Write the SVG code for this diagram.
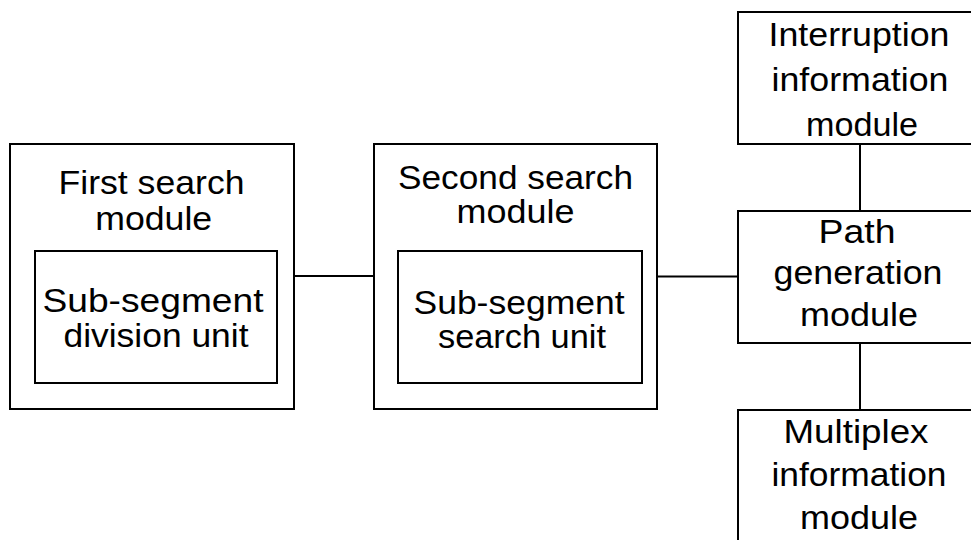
<svg xmlns="http://www.w3.org/2000/svg" width="971" height="540" viewBox="0 0 971 540">
<style>
.box{fill:#fff;stroke:#000;stroke-width:2}
.conn{stroke:#000;stroke-width:2;fill:none}
text{font-family:"Liberation Sans",Arial,sans-serif;font-size:33px;fill:#000;text-anchor:middle}
</style>
<rect width="971" height="540" fill="#fff"/>
<g id="connectors">
<line class="conn" x1="294" y1="276" x2="374" y2="276"/>
<line class="conn" x1="657" y1="276.5" x2="738" y2="276.5"/>
<line class="conn" x1="860" y1="144" x2="860" y2="211"/>
<line class="conn" x1="860" y1="343" x2="860" y2="410"/>
</g>
<g id="first-search-module">
<rect class="box" x="10" y="144" width="284" height="265"/>
<text x="151.5" y="194" textLength="186" lengthAdjust="spacingAndGlyphs">First search</text>
<text x="153.7" y="229.5" textLength="117" lengthAdjust="spacingAndGlyphs">module</text>
</g>
<g id="sub-segment-division-unit">
<rect class="box" x="35" y="251" width="242" height="132"/>
<text x="153" y="312" textLength="221" lengthAdjust="spacingAndGlyphs">Sub-segment</text>
<text x="156" y="347" textLength="185" lengthAdjust="spacingAndGlyphs">division unit</text>
</g>
<g id="second-search-module">
<rect class="box" x="374" y="144" width="283" height="265"/>
<text x="515.5" y="188.5" textLength="235" lengthAdjust="spacingAndGlyphs">Second search</text>
<text x="515.5" y="223" textLength="118" lengthAdjust="spacingAndGlyphs">module</text>
</g>
<g id="sub-segment-search-unit">
<rect class="box" x="398" y="251" width="244" height="132"/>
<text x="519" y="314" textLength="211" lengthAdjust="spacingAndGlyphs">Sub-segment</text>
<text x="522" y="347.5" textLength="168" lengthAdjust="spacingAndGlyphs">search unit</text>
</g>
<g id="interruption-information-module">
<rect class="box" x="738" y="12" width="260" height="132"/>
<text x="859" y="46" textLength="181" lengthAdjust="spacingAndGlyphs">Interruption</text>
<text x="860" y="91" textLength="177" lengthAdjust="spacingAndGlyphs">information</text>
<text x="862" y="135.5" textLength="112" lengthAdjust="spacingAndGlyphs">module</text>
</g>
<g id="path-generation-module">
<rect class="box" x="738" y="211" width="260" height="132"/>
<text x="857" y="242.5" textLength="77" lengthAdjust="spacingAndGlyphs">Path</text>
<text x="858" y="284" textLength="169" lengthAdjust="spacingAndGlyphs">generation</text>
<text x="859" y="326" textLength="118" lengthAdjust="spacingAndGlyphs">module</text>
</g>
<g id="multiplex-information-module">
<rect class="box" x="738" y="410" width="260" height="160"/>
<text x="856" y="442.7" textLength="145" lengthAdjust="spacingAndGlyphs">Multiplex</text>
<text x="859" y="486" textLength="175" lengthAdjust="spacingAndGlyphs">information</text>
<text x="859" y="529" textLength="118" lengthAdjust="spacingAndGlyphs">module</text>
</g>
</svg>
